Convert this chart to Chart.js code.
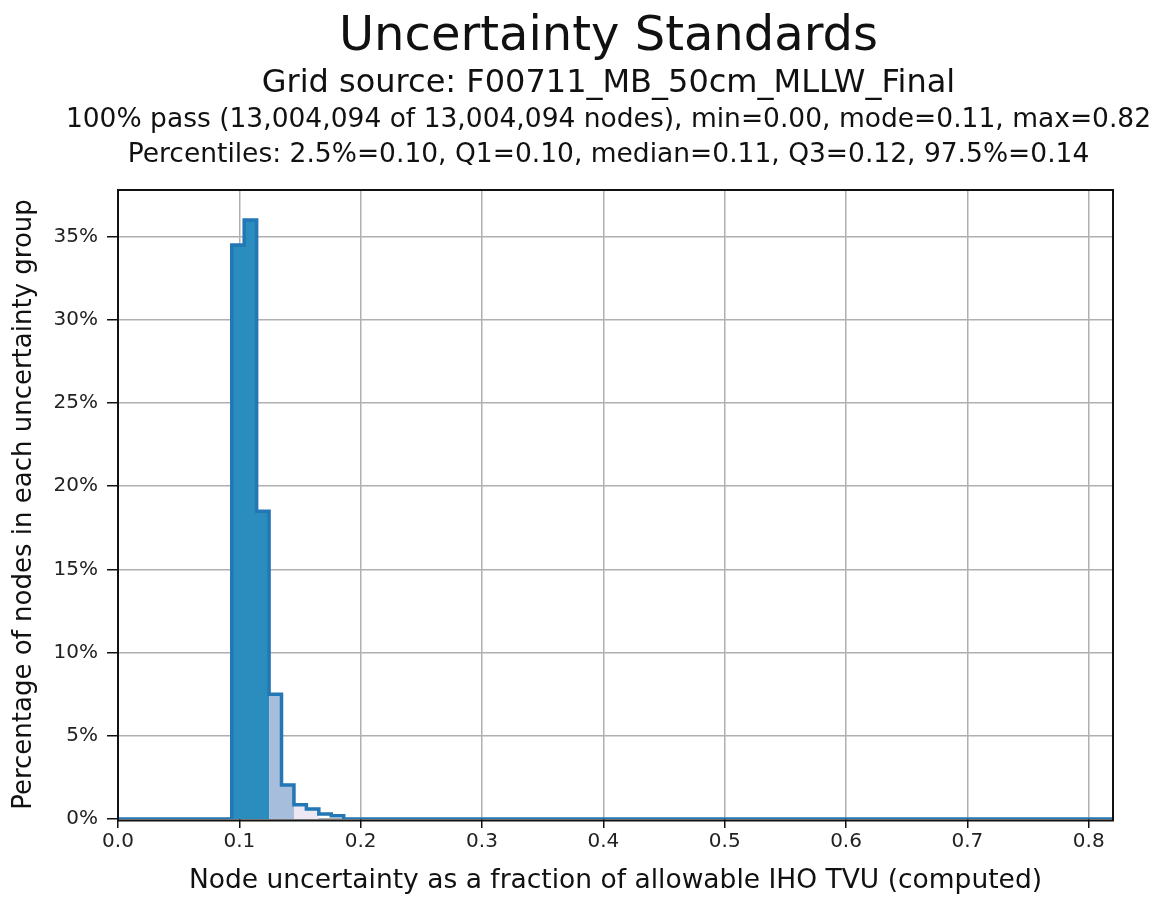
<!DOCTYPE html>
<html>
<head>
<meta charset="utf-8">
<script src="https://cdn.jsdelivr.net/npm/chart.js@4.4.0/dist/chart.umd.min.js"></script>
<style>
  html, body { margin: 0; padding: 0; background: #fff; }
  #wrap { position: relative; width: 1157px; height: 897px; }
  .head { position: absolute; left: 30px; width: 1157px; text-align: center; font-family: 'DejaVu Sans'; color: #111; white-space: nowrap; }
  canvas { position: absolute; left: 0; top: 0; }
</style>
</head>
<body>
<div id="wrap">
  <canvas id="myChart" width="1157" height="897"></canvas>
  <div class="head" id="t0" style="top:9px;font-size:48px;line-height:48px"></div>
  <div class="head" id="t1" style="top:65px;font-size:32px;line-height:32px"></div>
  <div class="head" id="t2" style="top:105px;font-size:26.5px;line-height:26.5px"></div>
  <div class="head" id="t3" style="top:140px;font-size:26.5px;line-height:26.5px"></div>
</div>
<script>
//? data
var chartTitle = 'Uncertainty Standards';
var subTitles = [
    'Grid source: F00711_MB_50cm_MLLW_Final',
    '100% pass (13,004,094 of 13,004,094 nodes), min=0.00, mode=0.11, max=0.82',
    'Percentiles: 2.5%=0.10, Q1=0.10, median=0.11, Q3=0.12, 97.5%=0.14'
];
var xLabel = 'Node uncertainty as a fraction of allowable IHO TVU (computed)';
var yLabel = 'Percentage of nodes in each uncertainty group';

// histogram bins (left edges, last value is right edge of last bin)
var binEdges = [0.09375, 0.104, 0.11425, 0.1245, 0.13475, 0.145, 0.15525, 0.1655, 0.17575, 0.186];
var binPercent = [34.5, 36.0, 18.5, 7.5, 2.05, 0.85, 0.6, 0.3, 0.2];
var binShade = [0, 0, 0, 1, 1, 2, 2, -1, -1];
var shadeColors = ['#2b8cbe', '#a6bddb', '#ece7f2'];

var xLimits = [0, 0.82];
var yLimits = [0, 37.8];
var xTicks = [0.0, 0.1, 0.2, 0.3, 0.4, 0.5, 0.6, 0.7, 0.8];
var yTicks = [0, 5, 10, 15, 20, 25, 30, 35];
//? data end

document.getElementById('t0').textContent = chartTitle;
subTitles.forEach(function (s, i) {
    document.getElementById('t' + (i + 1)).textContent = s;
});

// outline of the whole histogram
var outline = [{x: xLimits[0], y: 0}];
binPercent.forEach(function (v, i) {
    outline.push({x: binEdges[i], y: v});
});
outline.push({x: binEdges[binEdges.length - 1], y: 0});
outline.push({x: xLimits[1], y: 0});

// shaded groups
var fills = shadeColors.map(function (col, s) {
    var pts = [];
    var last = -1;
    binPercent.forEach(function (v, i) {
        if (binShade[i] === s) {
            pts.push({x: binEdges[i], y: v});
            last = i;
        }
    });
    pts.push({x: binEdges[last + 1], y: 0});
    return {
        type: 'line', data: pts, stepped: 'before', fill: 'origin',
        backgroundColor: col, borderWidth: 0, pointRadius: 0, order: 1
    };
});

// axes frame (spines), bottom one sits just under the zero line
var frame = {
    id: 'frame',
    afterDraw: function (chart) {
        var ctx = chart.ctx, a = chart.chartArea;
        ctx.save();
        ctx.strokeStyle = '#111';
        ctx.lineWidth = 2;
        ctx.beginPath();
        ctx.moveTo(a.left, a.bottom + 1.5);
        ctx.lineTo(a.left, a.top);
        ctx.lineTo(a.right, a.top);
        ctx.lineTo(a.right, a.bottom + 1.5);
        ctx.lineTo(a.left - 1, a.bottom + 1.5);
        ctx.stroke();
        ctx.restore();
    }
};

var font = 'DejaVu Sans';
Chart.defaults.font.family = font;
var ctx = document.getElementById('myChart').getContext('2d');
var chart = new Chart(ctx, {
    type: 'line',
    data: {
        datasets: fills.concat([{
            type: 'line', data: outline, stepped: 'before', fill: false,
            borderColor: '#2277b4', borderWidth: 3.5, pointRadius: 0, order: 0,
            borderJoinStyle: 'miter'
        }])
    },
    options: {
        responsive: false,
        animation: false,
        layout: { padding: { top: 190, right: 44, left: 0, bottom: 0 } },
        plugins: { legend: { display: false }, tooltip: { enabled: false } },
        scales: {
            x: {
                type: 'linear', min: xLimits[0], max: xLimits[1], z: 1,
                afterBuildTicks: function (s) { s.ticks = xTicks.map(function (v) { return {value: v}; }); },
                afterFit: function (s) { s.height = 78; },
                grid: { color: '#b0b0b0', lineWidth: 1.5, tickColor: '#111', tickLength: 9, tickWidth: 1.5 },
                border: { display: false },
                ticks: {
                    color: '#222', font: { family: font, size: 20 }, padding: 2, maxRotation: 0,
                    callback: function (v) { return v.toFixed(1); }
                },
                title: { display: true, text: xLabel, color: '#111', font: { family: font, size: 26.5 }, padding: { top: 0, bottom: 0 } }
            },
            y: {
                type: 'linear', min: yLimits[0], max: yLimits[1], z: 1,
                afterBuildTicks: function (s) { s.ticks = yTicks.map(function (v) { return {value: v}; }); },
                afterFit: function (s) { s.width = 118; },
                grid: { color: '#b0b0b0', lineWidth: 1.5, tickColor: '#111', tickLength: 11, tickWidth: 1.5 },
                border: { display: false },
                ticks: {
                    color: '#222', font: { family: font, size: 20 }, padding: 9,
                    callback: function (v) { return v + '%'; }
                },
                title: { display: true, text: yLabel, color: '#111', font: { family: font, size: 26 }, padding: { top: 9, bottom: 0 } }
            }
        }
    },
    plugins: [frame]
});
</script>
</body>
</html>
